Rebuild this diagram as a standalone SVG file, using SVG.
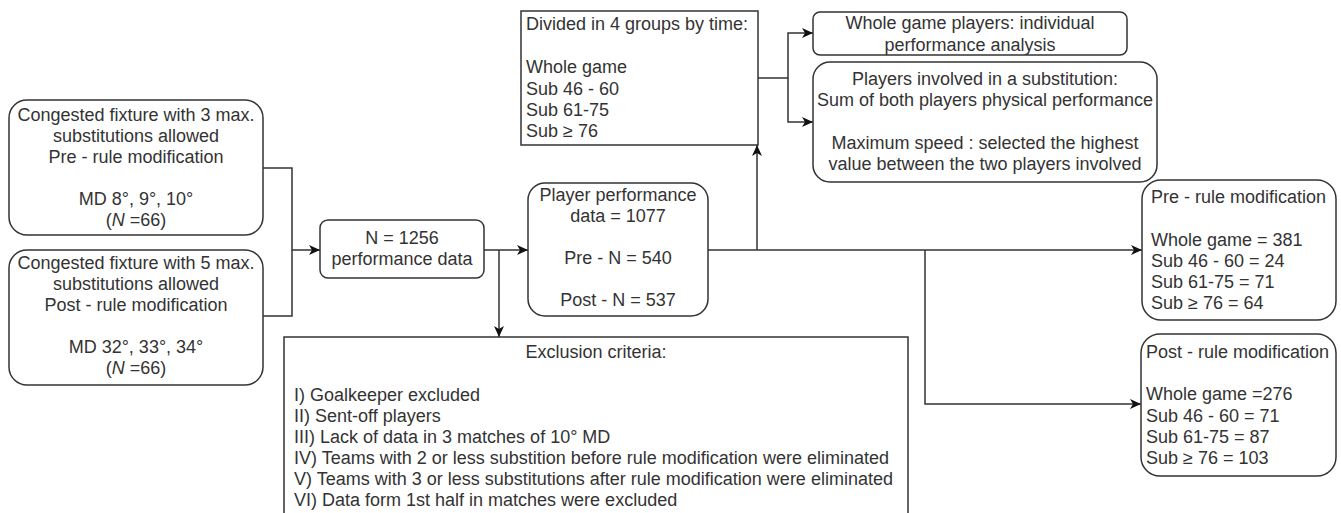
<svg xmlns="http://www.w3.org/2000/svg" width="1341" height="513" viewBox="0 0 1341 513">
<style>
.box{fill:#fff;stroke:#333;stroke-width:1.5}
.t{font-family:"Liberation Sans",Arial,sans-serif;font-size:18px;fill:#333}
.c{text-anchor:middle}
.ln{fill:none;stroke:#333;stroke-width:1.5}
</style>
<defs>
<marker id="arr" markerUnits="userSpaceOnUse" markerWidth="12" markerHeight="11" refX="11" refY="5" orient="auto">
<path d="M0,0 L11,5 L0,10 L3,5 z" fill="#111"/>
</marker>
</defs>
<rect width="1341" height="513" fill="#fff"/>
<g id="connectors">
<path class="ln" d="M263,168 H292 V250 H320" marker-end="url(#arr)"/>
<path class="ln" d="M263,316 H292 V250"/>
<path class="ln" d="M484,250 H528" marker-end="url(#arr)"/>
<path class="ln" d="M499,250 V337" marker-end="url(#arr)"/>
<path class="ln" d="M708,250 H1142" marker-end="url(#arr)"/>
<path class="ln" d="M757,250 V145" marker-end="url(#arr)"/>
<path class="ln" d="M925,250 V404 H1141" marker-end="url(#arr)"/>
<path class="ln" d="M758,78 H788 V33 H813" marker-end="url(#arr)"/>
<path class="ln" d="M788,78 V122 H813" marker-end="url(#arr)"/>
</g>
<g id="pre-fixture">
<rect class="box" x="9" y="100" width="254" height="135" rx="18"/>
<text class="t c" x="136" y="121">Congested fixture with 3 max.</text>
<text class="t c" x="136" y="142">substitutions allowed</text>
<text class="t c" x="136" y="163">Pre - rule modification</text>
<text class="t c" x="136" y="205">MD 8°, 9°, 10°</text>
<text class="t c" x="136" y="226">(<tspan font-style="italic">N</tspan> =66)</text>
</g>
<g id="post-fixture">
<rect class="box" x="9" y="250" width="254" height="135" rx="18"/>
<text class="t c" x="136" y="269">Congested fixture with 5 max.</text>
<text class="t c" x="136" y="290">substitutions allowed</text>
<text class="t c" x="136" y="311">Post - rule modification</text>
<text class="t c" x="136" y="353">MD 32°, 33°, 34°</text>
<text class="t c" x="136" y="374">(<tspan font-style="italic">N</tspan> =66)</text>
</g>
<g id="n1256">
<rect class="box" x="320" y="220" width="164" height="58" rx="8"/>
<text class="t c" x="402" y="244">N = 1256</text>
<text class="t c" x="402" y="265">performance data</text>
</g>
<g id="player-performance">
<rect class="box" x="528" y="183" width="180" height="133" rx="17"/>
<text class="t c" x="618" y="201">Player performance</text>
<text class="t c" x="618" y="222">data = 1077</text>
<text class="t c" x="618" y="264">Pre - N = 540</text>
<text class="t c" x="618" y="306">Post - N = 537</text>
</g>
<g id="divided">
<rect class="box" x="521" y="11" width="237" height="134"/>
<text class="t" x="526" y="30">Divided in 4 groups by time:</text>
<text class="t" x="526" y="73">Whole game</text>
<text class="t" x="526" y="95">Sub 46 - 60</text>
<text class="t" x="526" y="116">Sub 61-75</text>
<text class="t" x="526" y="137">Sub ≥ 76</text>
</g>
<g id="whole-game">
<rect class="box" x="813" y="12" width="314" height="43" rx="7"/>
<text class="t c" x="970" y="29">Whole game players: individual</text>
<text class="t c" x="970" y="51">performance analysis</text>
</g>
<g id="substitution">
<rect class="box" x="813" y="62" width="344" height="120" rx="17"/>
<text class="t c" x="985" y="85">Players involved in a substitution:</text>
<text class="t c" x="985" y="106">Sum of both players physical performance</text>
<text class="t c" x="985" y="149">Maximum speed : selected the highest</text>
<text class="t c" x="985" y="170">value between the two players involved</text>
</g>
<g id="pre-result">
<rect class="box" x="1142" y="180" width="194" height="140" rx="19"/>
<text class="t" x="1151" y="203">Pre - rule modification</text>
<text class="t" x="1151" y="246">Whole game = 381</text>
<text class="t" x="1151" y="267">Sub 46 - 60 = 24</text>
<text class="t" x="1151" y="288">Sub 61-75 = 71</text>
<text class="t" x="1151" y="309">Sub ≥ 76 = 64</text>
</g>
<g id="post-result">
<rect class="box" x="1141" y="334" width="195" height="142" rx="19"/>
<text class="t" x="1146" y="358">Post - rule modification</text>
<text class="t" x="1146" y="400">Whole game =276</text>
<text class="t" x="1146" y="422">Sub 46 - 60 = 71</text>
<text class="t" x="1146" y="443">Sub 61-75 = 87</text>
<text class="t" x="1146" y="464">Sub ≥ 76 = 103</text>
</g>
<g id="exclusion">
<rect class="box" x="284" y="337" width="624" height="190"/>
<text class="t c" x="596" y="358">Exclusion criteria:</text>
<text class="t" x="294" y="401">I) Goalkeeper excluded</text>
<text class="t" x="294" y="422">II) Sent-off players</text>
<text class="t" x="294" y="443">III) Lack of data in 3 matches of 10° MD</text>
<text class="t" x="294" y="464">IV) Teams with 2 or less substition before rule modification were eliminated</text>
<text class="t" x="294" y="485">V) Teams with 3 or less substitutions after rule modification were eliminated</text>
<text class="t" x="294" y="506">VI) Data form 1st half in matches were excluded</text>
</g>
</svg>
